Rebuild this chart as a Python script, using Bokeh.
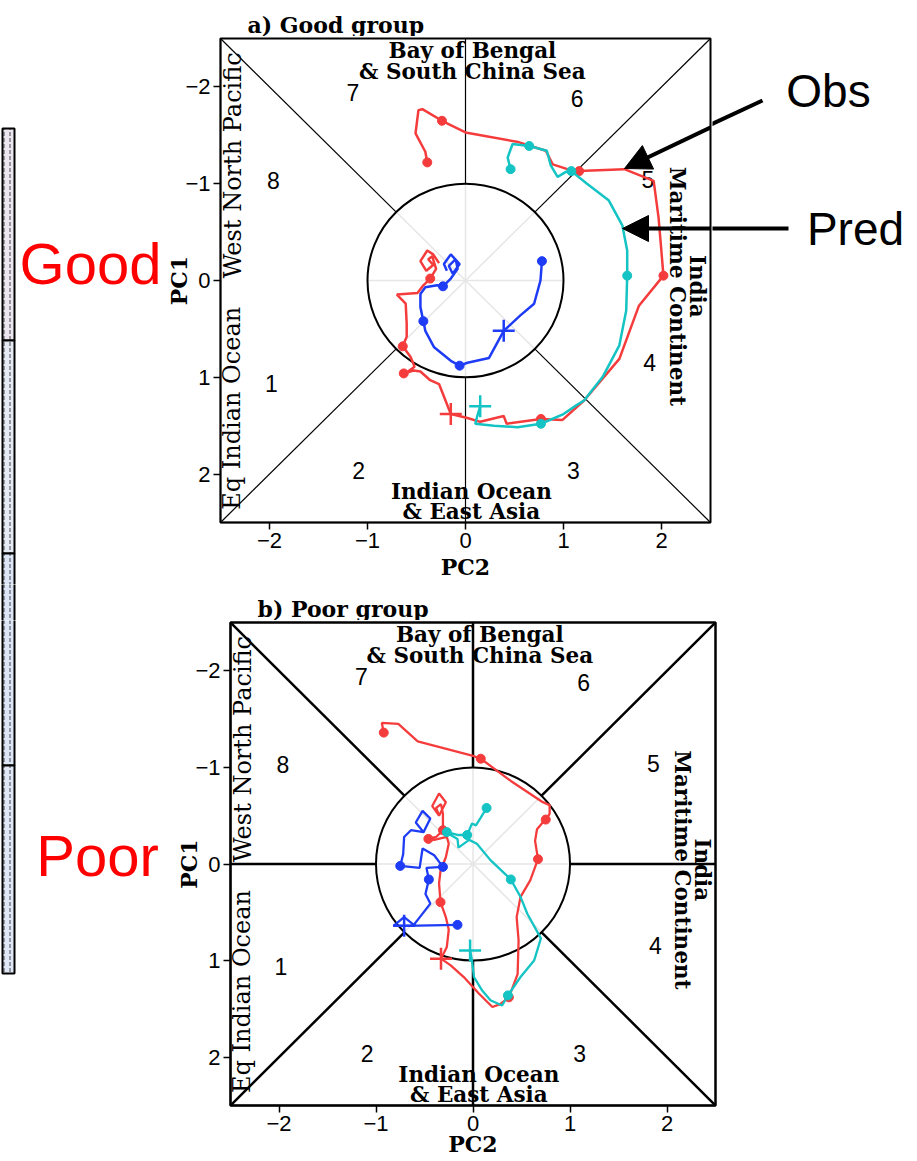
import numpy as np
from bokeh.plotting import figure
from bokeh.models import Range1d, FixedTicker, Arrow, NormalHead
from bokeh.layouts import column, row
from bokeh.embed import file_html
from bokeh.resources import INLINE
from bokeh.core.properties import value

# ---------------- data ----------------
TICKS = [-2, -1, 0, 1, 2]
TICK_LABELS = ["\u22122", "\u22121", "0", "1", "2"]

# panel a (Good group)
obs_a_x = [-0.27, -0.33, -0.39, -0.46, -0.40, -0.33, -0.38, -0.34, -0.30, -0.36,
           -0.43, -0.49, -0.70, -0.61, -0.60, -0.60, -0.64, -0.56, -0.52, -0.60,
           -0.63, -0.53, -0.46, -0.36, -0.27, -0.20, -0.15, 0.02, 0.15, 0.39,
           0.42, 0.77, 0.99, 1.21, 1.57, 1.77, 2.02, 1.97, 1.92, 1.62,
           1.16, 1.04, 0.89, 0.82, 0.54, 0.00, -0.24, -0.44, -0.48, -0.51,
           -0.41, -0.39]
obs_a_y = [-0.18, -0.27, -0.31, -0.20, -0.10, -0.16, -0.22, -0.25, -0.12, -0.02,
           0.05, 0.13, 0.145, 0.24, 0.45, 0.58, 0.68, 0.79, 0.89, 0.95,
           0.96, 0.93, 0.94, 1.03, 1.07, 1.25, 1.38, 1.42, 1.46, 1.40,
           1.48, 1.43, 1.44, 1.24, 0.81, 0.26, -0.05, -0.65, -1.03, -1.15,
           -1.13, -1.15, -1.20, -1.34, -1.43, -1.53, -1.65, -1.77, -1.76, -1.52,
           -1.33, -1.22]
obs_a_dots = [9, 16, 20, 31, 36, 40, 46, 51]
obs_a_start = 26

pred_a_x = [0.15, 0.12, 0.10, 0.29, 0.53, 0.77, 1.00, 1.13, 1.21, 1.40,
            1.57, 1.64, 1.65, 1.65, 1.60, 1.46, 1.24, 1.08, 1.02, 0.94,
            0.87, 0.83, 0.65, 0.48, 0.43, 0.46]
pred_a_y = [1.30, 1.40, 1.48, 1.50, 1.515, 1.48, 1.38, 1.29, 1.24, 0.995,
            0.67, 0.31, -0.05, -0.31, -0.57, -0.83, -1.00, -1.13, -1.12, -1.07,
            -1.19, -1.34, -1.39, -1.41, -1.27, -1.15]
pred_a_dots = [5, 12, 17, 22, 25]
pred_a_start = 0

blue_a_x = [-0.19, -0.22, -0.15, -0.06, -0.13, -0.17, -0.10, -0.08, -0.15, -0.23,
            -0.29, -0.41, -0.46, -0.46, -0.43, -0.41, -0.32, -0.15, -0.06, 0.02,
            0.24, 0.39, 0.56, 0.70, 0.765, 0.78]
blue_a_y = [-0.10, -0.17, -0.27, -0.17, -0.07, -0.15, -0.22, -0.12, -0.02, 0.06,
            0.05, 0.07, 0.14, 0.275, 0.42, 0.52, 0.69, 0.83, 0.88, 0.85,
            0.80, 0.52, 0.36, 0.24, 0.0, -0.20]
blue_a_dots = [9, 14, 18, 25]
blue_a_start = 21

# panel b (Poor group)
obs_b_x = [-0.35, -0.42, -0.35, -0.28, -0.35, -0.38, -0.33, -0.31, -0.31, -0.31,
           -0.38, -0.46, -0.40, -0.27, -0.25, -0.28, -0.335, -0.35, -0.335, -0.28,
           -0.25, -0.27, -0.33, -0.23, -0.095, 0.06, 0.20, 0.28, 0.37, 0.46,
           0.47, 0.45, 0.49, 0.59, 0.67, 0.64, 0.66, 0.71, 0.75, 0.79,
           0.79, 0.72, 0.39, 0.08, 0.00, -0.57, -0.77, -0.94, -0.92]
obs_b_y = [-0.50, -0.60, -0.73, -0.64, -0.50, -0.58, -0.62, -0.52, -0.45, -0.35,
           -0.28, -0.26, -0.25, -0.28, -0.21, -0.07, 0.07, 0.20, 0.395, 0.55,
           0.68, 0.86, 0.98, 1.05, 1.17, 1.34, 1.48, 1.45, 1.38, 1.14,
           0.79, 0.55, 0.34, 0.17, -0.05, -0.24, -0.36, -0.42, -0.46, -0.52,
           -0.61, -0.64, -0.86, -1.09, -1.12, -1.27, -1.45, -1.46, -1.36]
obs_b_dots = [9, 11, 18, 28, 34, 38, 43, 48]
obs_b_start = 22

pred_b_x = [-0.03, -0.01, 0.01, 0.095, 0.18, 0.30, 0.36, 0.49, 0.63, 0.70,
            0.56, 0.49, 0.39, 0.18, 0.04, -0.04, -0.15, -0.16, -0.23, -0.27,
            -0.15, -0.06, -0.01, 0.03, 0.08, 0.14]
pred_b_y = [0.895, 1.00, 1.17, 1.31, 1.41, 1.465, 1.36, 1.17, 1.00, 0.77,
            0.515, 0.34, 0.16, -0.04, -0.21, -0.25, -0.17, -0.26, -0.30, -0.33,
            -0.30, -0.30, -0.42, -0.40, -0.48, -0.58]
pred_b_dots = [6, 12, 19, 21, 25]
pred_b_start = 0

blue_b_x = [-0.51, -0.59, -0.52, -0.44, -0.51, -0.64, -0.71, -0.72, -0.75, -0.55,
            -0.52, -0.40, -0.31, -0.48, -0.455, -0.49, -0.44, -0.61, -0.71, -0.82,
            -0.71, -0.16]
blue_b_y = [-0.33, -0.43, -0.55, -0.47, -0.33, -0.35, -0.28, -0.10, 0.02, 0.04,
            -0.16, -0.09, 0.03, 0.04, 0.16, 0.31, 0.41, 0.63, 0.55, 0.64,
            0.64, 0.63]
blue_b_dots = [8, 12, 14, 21]
blue_b_start = 20

# region labels
region_nums = ["1", "2", "3", "4", "5", "6", "7", "8"]
region_num_x = [-1.98, -1.09, 1.10, 1.88, 1.86, 1.14, -1.15, -1.96]
region_num_y = [1.06, 1.96, 1.96, 0.845, -1.04, -1.88, -1.94, -1.03]

region_h_text = ["Bay of Bengal", "& South China Sea", "Indian Ocean", "& East Asia"]
region_h_x = [0.07, 0.07, 0.06, 0.06]
region_h_y = [-2.38, -2.16, 2.18, 2.39]

region_l_text = ["West North Pacific", "Eq Indian Ocean"]
region_l_x = [-2.37, -2.38]
region_l_y = [-1.19, 1.32]

region_r_text = ["Maritime Continent", "India"]
region_r_x = [2.16, 2.37]
region_r_y = [0.06, 0.06]

RED = "#f53c3c"
CYAN = "#14c3c3"
BLUE = "#1e3cf5"

# ---------------- decoration geometry (page pixel coordinates) ----------------
GEOM_A = dict(x0=465.0, xs=98.0, y0=280.0, ys=96.8)


def px2x(g, px):
    return (px - g["x0"]) / g["xs"]


def px2y(g, py):
    return (py - g["y0"]) / g["ys"]


STRIP_EDGES = [128, 340, 553, 765, 973]
STRIP_FILL = ["#ece6f0", "#e6eaf5", "#dde6f6", "#e0e8f7"]


def deco(x0, x1, y0, y1):
    f = figure(width=int(x1 - x0), height=int(y1 - y0), x_range=Range1d(x0, x1),
               y_range=Range1d(y1, y0), output_backend="svg", toolbar_location=None,
               min_border=0, x_axis_type=None, y_axis_type=None)
    if "frame_align" in f.properties():
        f.frame_align = False
    f.grid.visible = False
    f.outline_line_color = None
    f.background_fill_color = "white"
    f.border_fill_color = "white"
    f.quad(left=2, right=14, top=STRIP_EDGES[:-1], bottom=STRIP_EDGES[1:],
           fill_color=STRIP_FILL, line_color="black", line_width=2,
           hatch_pattern="vertical_dash", hatch_color="black", hatch_scale=6,
           hatch_weight=1, hatch_alpha=0.7)
    return f


def make_panel(w, h, bl, br, bt, bb, thick, xlab_standoff, series):
    p = figure(width=w, height=h, x_range=Range1d(-2.5, 2.5), y_range=Range1d(2.5, -2.5),
               output_backend="svg", toolbar_location=None,
               min_border_left=bl, min_border_right=br, min_border_top=bt, min_border_bottom=bb)
    p.grid.visible = False
    p.background_fill_color = "white"
    p.border_fill_color = "white"
    p.outline_line_color = "black"
    p.outline_line_width = 2.5 if thick else 2
    p.outline_line_alpha = 1
    for ax in (p.xaxis[0], p.yaxis[0]):
        ax.ticker = FixedTicker(ticks=TICKS)
        ax.major_label_overrides = {t: l for t, l in zip(TICKS, TICK_LABELS)}
        ax.minor_tick_line_color = None
        ax.major_tick_in = 0
        ax.major_tick_out = 7
        ax.major_tick_line_width = 1.5
        ax.axis_line_width = 1.5
        ax.major_label_text_font = "Liberation Sans"
        ax.major_label_text_font_size = "22px"
        ax.major_label_text_color = "black"
        ax.axis_label_text_font = "DejaVu Serif"
        ax.axis_label_text_font_style = "bold"
        ax.axis_label_text_font_size = "22px"
        ax.axis_label_text_color = "black"
    p.xaxis.axis_label = "PC2"
    p.yaxis.axis_label = "PC1"
    p.xaxis.major_label_standoff = 3
    p.yaxis.major_label_standoff = 3
    p.xaxis.axis_label_standoff = xlab_standoff
    p.yaxis.axis_label_standoff = -10

    lw = 2.5 if thick else 1.2
    c = np.sqrt(0.5)
    p.multi_line(xs=[[-c, c], [-c, c], [0, 0], [-1, 1]], ys=[[-c, c], [c, -c], [-1, 1], [0, 0]],
                 line_color="#e6e6e6", line_width=1.5)
    seg_x = [[-2.5, -c], [2.5, c], [-2.5, -c], [2.5, c], [0, 0], [0, 0]]
    seg_y = [[-2.5, -c], [-2.5, -c], [2.5, c], [2.5, c], [-2.5, -1], [2.5, 1]]
    if thick:
        seg_x += [[-2.5, -1], [1, 2.5]]
        seg_y += [[0, 0], [0, 0]]
    p.multi_line(xs=seg_x, ys=seg_y, line_color="black", line_width=lw)
    p.ellipse(x=0, y=0, width=2, height=2, fill_color=None, line_color="black", line_width=2)

    p.text(x=region_num_x, y=region_num_y, text=region_nums, text_font=value("Liberation Sans"),
           text_font_size="23px", text_align="center", text_baseline="middle", text_color="black")
    p.text(x=region_h_x, y=region_h_y, text=region_h_text, text_font=value("DejaVu Serif"),
           text_font_style="bold", text_font_size="21.5px", text_align="center",
           text_baseline="middle", text_color="black")
    p.text(x=region_l_x, y=region_l_y, text=region_l_text, text_font=value("DejaVu Serif"),
           text_font_size="24px", text_align="center", text_baseline="middle",
           angle=np.pi / 2, text_color="black")
    p.text(x=region_r_x, y=region_r_y, text=region_r_text, text_font=value("DejaVu Serif"),
           text_font_style="bold", text_font_size="21.5px", text_align="center",
           text_baseline="middle", angle=-np.pi / 2, text_color="black")

    dlw = 2.3 if thick else 2.5
    for xs_, ys_, dots, start, col in series:
        p.line(xs_, ys_, line_color=col, line_width=dlw)
        p.scatter([xs_[i] for i in dots], [ys_[i] for i in dots], size=9, color=col)
        p.scatter([xs_[start]], [ys_[start]], marker="cross", size=22, line_width=2.5,
                  line_color=col)
    return p


PAGE_W = 915

# ---------------- row A : Good group ----------------
header_a = deco(0, PAGE_W, 0, 36)
header_a.text(x=[247], y=[24], text=["a) Good group"], text_font=value("DejaVu Serif"),
              text_font_style="bold", text_font_size="22px", text_align="left",
              text_baseline="alphabetic", text_color="black")

left_a = deco(0, 160, 36, 584)
left_a.text(x=[90], y=[263], text=["Good"], text_font=value("Liberation Sans"),
            text_font_size="58px", text_align="center", text_baseline="middle",
            text_color="#ff0000")

# frame: x 220..710, y 38..522
pa = make_panel(552, 548, 60, 2, 2, 62, False, 3,
                [(obs_a_x, obs_a_y, obs_a_dots, obs_a_start, RED),
                 (pred_a_x, pred_a_y, pred_a_dots, pred_a_start, CYAN),
                 (blue_a_x, blue_a_y, blue_a_dots, blue_a_start, BLUE)])

right_a = deco(712, PAGE_W, 36, 584)
right_a.text(x=[828, 855], y=[90, 228], text=["Obs", "Pred"], text_font=value("Liberation Sans"),
             text_font_size="46px", text_align="center", text_baseline="middle",
             text_color="black")

# arrows: tail (outside the frame) + head (inside the frame)
OBS_TAIL = (762, 100)
OBS_TIP = (624, 168)
PRED_TAIL = (788, 228)
PRED_TIP = (622, 228)
EDGE = 710


def cross_y(tail, tip):
    t = (tail[0] - EDGE) / (tail[0] - tip[0])
    return tail[1] + t * (tip[1] - tail[1])


for tail, tip in ((OBS_TAIL, OBS_TIP), (PRED_TAIL, PRED_TIP)):
    yc = cross_y(tail, tip)
    right_a.segment(x0=[tail[0]], y0=[tail[1]], x1=[EDGE - 3], y1=[yc], line_color="black",
                    line_width=4)
    pa.add_layout(Arrow(end=NormalHead(size=26, fill_color="black", line_color="black"),
                        x_start=px2x(GEOM_A, EDGE + 3), y_start=px2y(GEOM_A, yc),
                        x_end=px2x(GEOM_A, tip[0]), y_end=px2y(GEOM_A, tip[1]),
                        line_width=4, line_color="black"))

# ---------------- row B : Poor group ----------------
header_b = deco(0, PAGE_W, 584, 620)
header_b.text(x=[257], y=[608], text=["b) Poor group"], text_font=value("DejaVu Serif"),
              text_font_style="bold", text_font_size="22px", text_align="left",
              text_baseline="alphabetic", text_color="black")

left_b = deco(0, 170, 620, 1160)
left_b.text(x=[97], y=[855], text=["Poor"], text_font=value("Liberation Sans"),
            text_font_size="58px", text_align="center", text_baseline="middle",
            text_color="#ff0000")

# frame: x 230..715, y 622..1105
pb = make_panel(547, 540, 60, 2, 2, 55, True, -3,
                [(obs_b_x, obs_b_y, obs_b_dots, obs_b_start, RED),
                 (pred_b_x, pred_b_y, pred_b_dots, pred_b_start, CYAN),
                 (blue_b_x, blue_b_y, blue_b_dots, blue_b_start, BLUE)])

layout = column(header_a, row(left_a, pa, right_a), header_b, row(left_b, pb))
open("out.html", "w").write(file_html(layout, INLINE))
